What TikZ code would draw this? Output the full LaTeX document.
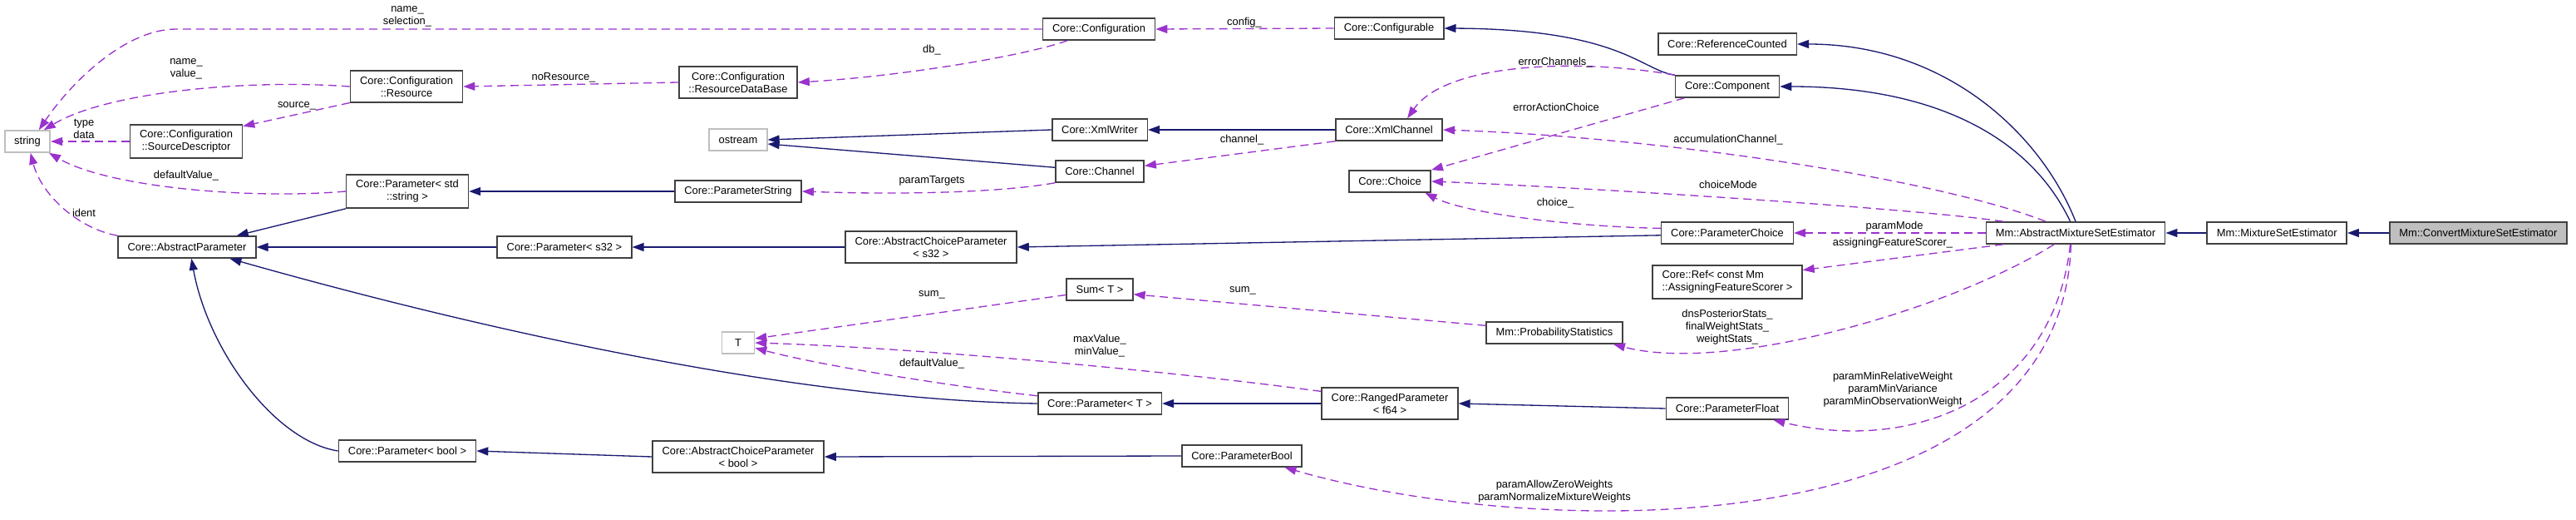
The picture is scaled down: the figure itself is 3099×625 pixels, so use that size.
\documentclass[tikz,border=0pt]{standalone}
\usepackage{fontspec}
\setmainfont{Liberation Sans}
\usetikzlibrary{arrows.meta, positioning}
\definecolor{edgeblue}{HTML}{191970}
\definecolor{edgeorchid}{HTML}{9A32CD}
\definecolor{extgray}{HTML}{BFBFBF}
\newcommand{\graphfont}{\fontsize{7.35pt}{8.54pt}\selectfont}

\begin{document}
\begin{tikzpicture}[x=0.02cm, y=-0.02cm,
  cls/.style={rectangle, draw=black!75, line width=0.9pt, fill=white, font=\graphfont, align=center, inner xsep=0.23cm, inner ysep=0.13cm, minimum height=0.52cm},
  ext/.style={cls, draw=extgray},
  focus/.style={cls, fill=extgray},
  inherit/.style={-{Triangle[length=0.28cm, width=0.2cm]}, line width=0.75pt, color=edgeblue},
  uses/.style={-{Triangle[length=0.28cm, width=0.2cm]}, line width=0.75pt, color=edgeorchid, dash pattern=on 0.2cm off 0.12cm},
  lbl/.style={font=\graphfont, align=center, inner sep=0pt, text=black}
]
\useasboundingbox (0,0) rectangle (3099,625);

% Klasy
\node[ext] (str) at (33,170) {string};
\node[cls] (cfg) at (1322,35) {Core::Configuration};
\node[cls] (cfgable) at (1671,34) {Core::Configurable};
\node[cls] (refcnt) at (2078,53) {Core::ReferenceCounted};
\node[cls] (comp) at (2078,104) {Core::Component};
\node[cls] (res) at (489,104) {Core::Configuration\\::Resource};
\node[cls] (resdb) at (888,99) {Core::Configuration\\::ResourceDataBase};
\node[cls] (srcdesc) at (224,170) {Core::Configuration\\::SourceDescriptor};
\node[ext] (ostr) at (888,168) {ostream};
\node[cls] (xmlwriter) at (1323,156) {Core::XmlWriter};
\node[cls] (xmlch) at (1671,156) {Core::XmlChannel};
\node[cls] (channel) at (1323,206) {Core::Channel};
\node[cls] (choice) at (1672,218) {Core::Choice};
\node[cls] (parstdstr) at (490,230) {Core::Parameter< std\\::string >};
\node[cls] (parstring) at (888,230) {Core::ParameterString};
\node[cls] (abspar) at (225,297) {Core::AbstractParameter};
\node[cls] (pars32) at (679,297) {Core::Parameter< s32 >};
\node[cls] (acps32) at (1120,297) {Core::AbstractChoiceParameter\\< s32 >};
\node[cls] (pchoice) at (2078,280) {Core::ParameterChoice};
\node[cls] (amse) at (2497,280) {Mm::AbstractMixtureSetEstimator};
\node[cls, right=0.98cm of amse] (mse) {Mm::MixtureSetEstimator};
\node[focus, right=1cm of mse] (cmse) {Mm::ConvertMixtureSetEstimator};
\node[cls, align=left] (refscorer) at (2078,339) {Core::Ref< const Mm\\::AssigningFeatureScorer >};
\node[cls] (sumt) at (1323,348) {Sum< T >};
\node[ext, minimum width=0.78cm] (tnode) at (888,412) {T};
\node[cls] (probstats) at (1870,400) {Mm::ProbabilityStatistics};
\node[cls] (part) at (1323,485) {Core::Parameter< T >};
\node[cls] (ranged) at (1672,485) {Core::RangedParameter\\< f64 >};
\node[cls] (pfloat) at (2078,491) {Core::ParameterFloat};
\node[cls] (parbool) at (490,542) {Core::Parameter< bool >};
\node[cls] (acpbool) at (888,549) {Core::AbstractChoiceParameter\\< bool >};
\node[cls] (pbool) at (1494,548) {Core::ParameterBool};

% Dziedziczenie
\draw[inherit] (comp.north west) .. controls (1975,85) and (1950,35) .. (cfgable.east);
\draw[inherit] (amse.north) .. controls (2455,160) and (2340,53) .. (refcnt.east);
\draw[inherit] (amse.115) .. controls (2440,160) and (2320,104) .. (comp.east);
\draw[inherit] (xmlwriter.west) -- (ostr.east);
\draw[inherit] (channel.175) -- (ostr.-8);
\draw[inherit] (xmlch.west) -- (xmlwriter.east);
\draw[inherit] (parstring.west) -- (parstdstr.east);
\draw[inherit] (parstdstr.south west) -- (abspar.13);
\draw[inherit] (pars32.west) -- (abspar.east);
\draw[inherit] (acps32.west) -- (pars32.east);
\draw[inherit] (pchoice.-178) -- (acps32.east);
\draw[inherit] (part.west) .. controls (900,480) and (450,360) .. (abspar.-15);
\draw[inherit] (parbool.west) .. controls (330,530) and (250,420) .. (abspar.-69);
\draw[inherit] (ranged.west) -- (part.east);
\draw[inherit] (pfloat.west) -- (ranged.east);
\draw[inherit] (acpbool.west) -- (parbool.east);
\draw[inherit] (pbool.west) -- (acpbool.east);
\draw[inherit] (mse) -- (amse);
\draw[inherit] (cmse) -- (mse);

% Powiazania
\draw[uses] (cfg.west) -- (212,35) .. controls (150,35) and (85,100) .. (str.45) node[lbl] at (490,20) {name\_\\selection\_};
\draw[uses] (res.west) .. controls (300,95) and (130,110) .. (str.35) node[lbl] at (224,83) {name\_\\value\_};
\draw[uses] (srcdesc.west) -- (str.east) node[lbl] at (101,155) {type\\data};
\draw[uses] (parstdstr.west) .. controls (300,240) and (130,225) .. (str.-28) node[lbl] at (224,211) {defaultValue\_};
\draw[uses] (abspar.north west) .. controls (95,275) and (50,235) .. (str.-75) node[lbl] at (101,256) {ident};
\draw[uses] (resdb.west) -- (res.east) node[lbl] at (678,93) {noResource\_};
\draw[uses] (res.south west) -- (srcdesc.15) node[lbl] at (357,127) {source\_};
\draw[uses] (cfg.-160) .. controls (1230,68) and (1080,92) .. (resdb.east) node[lbl] at (1121,60) {db\_};
\draw[uses] (cfgable.west) -- (cfg.east) node[lbl] at (1497,27) {config\_};
\draw[uses] (comp.north west) .. controls (1900,70) and (1740,75) .. (xmlch.32) node[lbl] at (1871,75) {errorChannels\_};
\draw[uses] (comp.-165) -- (choice.north east) node[lbl] at (1872,129) {errorActionChoice};
\draw[uses] (xmlch.south west) -- (channel.7) node[lbl] at (1494,168) {channel\_};
\draw[uses] (channel.south west) .. controls (1200,232) and (1080,234) .. (parstring.east) node[lbl] at (1121,217) {paramTargets};
\draw[uses] (amse.159) .. controls (2330,215) and (2000,165) .. (xmlch.east) node[lbl] at (2079,168) {accumulationChannel\_};
\draw[uses] (amse.171) .. controls (2300,250) and (1900,225) .. (choice.east) node[lbl] at (2079,222) {choiceMode};
\draw[uses] (pchoice.176) .. controls (1880,272) and (1760,255) .. (choice.-18) node[lbl] at (1871,244) {choice\_};
\draw[uses] (amse.west) -- (pchoice.east) node[lbl] at (2279,272) {paramMode};
\draw[uses] (amse.-171) -- (refscorer.9) node[lbl] at (2277,292) {assigningFeatureScorer\_};
\draw[uses] (amse.-152) .. controls (2350,370) and (2080,450) .. (probstats.-11) node[lbl] at (2078,393) {dnsPosteriorStats\_\\finalWeightStats\_\\weightStats\_};
\draw[uses] (probstats.174) -- (sumt.-8) node[lbl] at (1495,349) {sum\_};
\draw[uses] (sumt.-171) -- (tnode.14) node[lbl] at (1121,354) {sum\_};
\draw[uses] (ranged.170) .. controls (1400,445) and (1100,418) .. (tnode.east) node[lbl] at (1323,416) {maxValue\_\\minValue\_};
\draw[uses] (part.173) .. controls (1150,465) and (990,440) .. (tnode.-17) node[lbl] at (1121,437) {defaultValue\_};
\draw[uses] (amse.-115) .. controls (2470,480) and (2300,545) .. (pfloat.-14) node[lbl] at (2277,468) {paramMinRelativeWeight\\paramMinVariance\\paramMinObservationWeight};
\draw[uses] (amse.-112) .. controls (2480,660) and (1850,650) .. (pbool.-15) node[lbl] at (1870,591) {paramAllowZeroWeights\\paramNormalizeMixtureWeights};
\end{tikzpicture}
\end{document}
